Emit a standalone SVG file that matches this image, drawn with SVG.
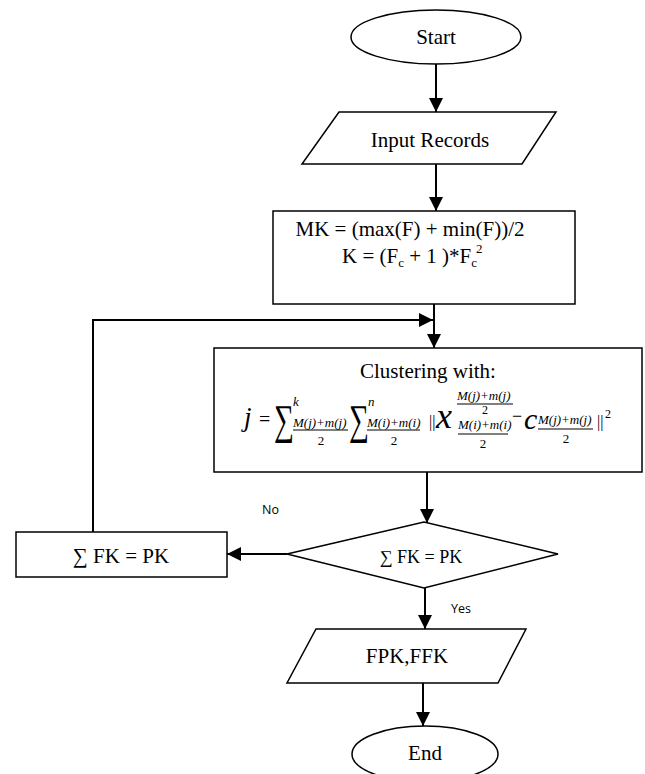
<svg xmlns="http://www.w3.org/2000/svg" width="645" height="774" viewBox="0 0 645 774">
<defs>
<marker id="ah" markerUnits="userSpaceOnUse" markerWidth="14" markerHeight="14" refX="14" refY="7" orient="auto">
<path d="M0,0 L14,7 L0,14 z" fill="#000"/>
</marker>
<style>
.sh{fill:#fff;stroke:#000;stroke-width:1.5}
.cn{fill:none;stroke:#000;stroke-width:2}
.t{font-family:"Liberation Serif","Times New Roman",serif;font-size:21px;fill:#000}
.m{text-anchor:middle}
.i{font-style:italic}
.s{font-family:"Liberation Serif","Times New Roman",serif;font-size:13px;fill:#000}
.lb{font-family:"Open Sans","Noto Sans",sans-serif;font-size:12.5px;fill:#000}
.fl{stroke:#000;stroke-width:1}
</style>
</defs>
<rect width="645" height="774" fill="#fff"/>
<g id="connectors">
<line class="cn" x1="436" y1="64" x2="436" y2="112" marker-end="url(#ah)"/>
<line class="cn" x1="436" y1="164" x2="436" y2="211" marker-end="url(#ah)"/>
<line class="cn" x1="434" y1="304" x2="434" y2="348" marker-end="url(#ah)"/>
<line class="cn" x1="427" y1="472" x2="427" y2="523" marker-end="url(#ah)"/>
<line class="cn" x1="287" y1="554" x2="227" y2="554" marker-end="url(#ah)"/>
<polyline class="cn" points="93,532 93,320 433,320" marker-end="url(#ah)"/>
<line class="cn" x1="425" y1="588" x2="425" y2="629" marker-end="url(#ah)"/>
<line class="cn" x1="423" y1="683" x2="423" y2="726" marker-end="url(#ah)"/>
<text class="lb" x="262" y="514">No</text>
<text class="lb" x="451" y="613">Yes</text>
</g>
<g id="start">
<ellipse class="sh" cx="436" cy="37" rx="85" ry="27"/>
<text class="t m" x="436" y="44">Start</text>
</g>
<g id="input">
<polygon class="sh" points="339,112 556,112 522,164 302,164"/>
<text class="t m" x="430" y="147">Input Records</text>
</g>
<g id="mk">
<rect class="sh" x="273" y="211" width="302" height="93"/>
<text class="t m" x="410" y="236">MK = (max(F) + min(F))/2</text>
<text class="t" x="342" y="263">K = (F<tspan style="font-size:13px" dy="4">c</tspan><tspan dy="-4"> + 1 )*F</tspan><tspan style="font-size:13px" dy="4">c</tspan></text>
<text class="s" x="476" y="253">2</text>
</g>
<g id="clustering">
<rect class="sh" x="214" y="348" width="428" height="124"/>
<text class="t m" x="428" y="378">Clustering with:</text>
<text class="t i" x="244" y="426" style="font-size:27px">j</text>
<text class="t" x="259" y="426" style="font-size:20px">=</text>
<text class="t" transform="translate(274,434) scale(1,1.5)" style="font-size:28px">∑</text>
<text class="s i" x="293" y="406">k</text>
<text class="s i" x="293" y="427">M(j)+m(j)</text>
<line class="fl" x1="293" y1="430" x2="348" y2="430"/>
<text class="s m" x="321" y="445">2</text>
<text class="t" transform="translate(349,434) scale(1,1.5)" style="font-size:28px">∑</text>
<text class="s i" x="368" y="406">n</text>
<text class="s i" x="367" y="427">M(i)+m(i)</text>
<line class="fl" x1="367" y1="430" x2="420" y2="430"/>
<text class="s m" x="394" y="445">2</text>
<text class="t" x="429" y="427" style="font-size:16px">||</text>
<text class="t i" x="436" y="428" style="font-size:36px">x</text>
<text class="s i" x="457" y="400">M(j)+m(j)</text>
<line class="fl" x1="457" y1="404" x2="513" y2="404"/>
<text class="s m" x="485" y="414" style="font-size:12px">2</text>
<text class="s i" x="458" y="429">M(i)+m(i)</text>
<line class="fl" x1="458" y1="434" x2="508" y2="434"/>
<text class="s m" x="483" y="448">2</text>
<text class="t" x="512" y="422" style="font-size:18px">−</text>
<text class="t i" x="524" y="429" style="font-size:30px">c</text>
<text class="s i" x="538" y="424">M(j)+m(j)</text>
<line class="fl" x1="538" y1="429" x2="593" y2="429"/>
<text class="s m" x="566" y="443">2</text>
<text class="t" x="597" y="427" style="font-size:16px">||</text>
<text class="s" x="605" y="418" style="font-size:12px">2</text>
</g>
<g id="decision">
<polygon class="sh" points="287,554 424,522 558,554 424,588"/>
<text class="t m" x="421" y="563" style="font-size:18px">∑ FK = PK</text>
</g>
<g id="update">
<rect class="sh" x="16" y="532" width="211" height="45"/>
<text class="t m" x="121" y="563">∑ FK = PK</text>
</g>
<g id="output">
<polygon class="sh" points="316,629 526,629 498,683 287,683"/>
<text class="t m" x="407" y="663">FPK,FFK</text>
</g>
<g id="end">
<ellipse class="sh" cx="425" cy="754" rx="73" ry="28"/>
<text class="t m" x="425" y="760">End</text>
</g>
</svg>
